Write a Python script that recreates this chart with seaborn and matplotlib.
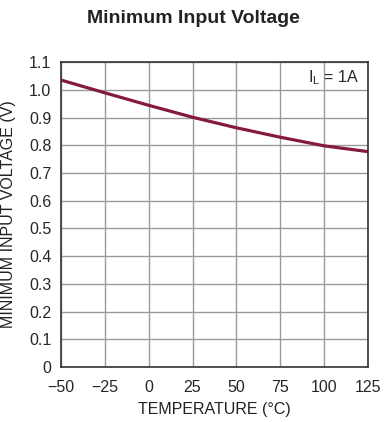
import pandas as pd
import seaborn as sns
import matplotlib.pyplot as plt

# data
temperature = [-50, -25, 0, 25, 50, 75, 100, 125]
min_vin = [1.035, 0.989, 0.944, 0.901, 0.863, 0.829, 0.798, 0.777]

x_ticks = [-50, -25, 0, 25, 50, 75, 100, 125]
x_tick_labels = ['\u221250', '\u221225', '0', '25', '50', '75', '100', '125']
y_ticks = [0, 0.1, 0.2, 0.3, 0.4, 0.5, 0.6, 0.7, 0.8, 0.9, 1.0, 1.1]
y_tick_labels = ['0', '0.1', '0.2', '0.3', '0.4', '0.5', '0.6', '0.7', '0.8', '0.9', '1.0', '1.1']

df = pd.DataFrame({'temp': temperature, 'vin': min_vin})

sns.set_style('white')
plt.rcParams['font.family'] = ['Liberation Sans', 'DejaVu Sans']

fig = plt.figure(figsize=(3.86, 4.22), dpi=100)
ax = fig.add_axes([0.158, 0.130, 0.795, 0.723])

sns.lineplot(data=df, x='temp', y='vin', ax=ax, color='#841a3c', linewidth=2.3)

ax.set_xlim(-50, 125)
ax.set_ylim(0, 1.1)
ax.set_xticks(x_ticks)
ax.set_xticklabels(x_tick_labels, fontsize=11.5)
ax.set_yticks(y_ticks)
ax.set_yticklabels(y_tick_labels, fontsize=11.5)
ax.tick_params(axis='x', length=0, pad=9)
ax.tick_params(axis='y', length=0, pad=7)
ax.grid(True, color='#9a9a9a', linewidth=1.0)
for s in ax.spines.values():
    s.set_color('#333333')
    s.set_linewidth(1.2)

ax.set_xlabel('TEMPERATURE (\u00b0C)', fontsize=11.5, labelpad=5, color='#222222')
ax.set_ylabel('MINIMUM INPUT VOLTAGE (V)', fontsize=11.5, labelpad=9, color='#222222')
ax.text(0.97, 0.95, '$\\mathregular{I_L}$ = 1A', transform=ax.transAxes,
        ha='right', va='center', fontsize=11.5)

fig.text(0.5, 0.957, 'Minimum Input Voltage', ha='center', va='center',
         fontsize=14, fontweight='bold', color='#222222')

fig.savefig('out.png', dpi=100)
